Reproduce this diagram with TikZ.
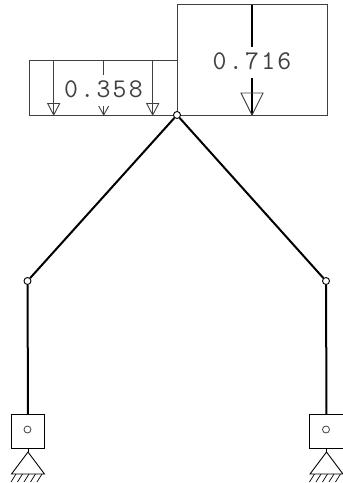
\documentclass[tikz,border=0pt]{standalone}
\usepackage{fontspec}
\definecolor{ink}{gray}{0.25}
\tikzset{
  x=1pt,y=-1pt,
  thinbox/.style={draw=ink,line width=1pt},
  bar/.style={draw=black,line width=2pt},
  thinline/.style={draw=ink,line width=1pt},
  hinge/.style={circle,draw=black,fill=white,line width=0.9pt,minimum size=7pt,inner sep=0pt},
  pin/.style={circle,draw=ink,fill=white,line width=0.8pt,minimum size=7pt,inner sep=0pt},
  valuelabel/.style={inner sep=0pt,text=ink,font=\ttfamily\fontsize{27}{27}\selectfont},
}
\newcommand{\tk}{\kern2.3pt}
\newcommand{\supportat}[2]{%
  \draw[line width=0.9pt,draw=black] (#1-16.5,#2+22) -- (#1,#2) -- (#1+16.5,#2+22) -- cycle;
  \foreach \k in {0,1,2,3,4}
    \draw[line width=0.7pt,draw=black] (#1-12+\k*6.5,#2+22) -- (#1-17+\k*6.5,#2+30);
}
\begin{document}
\begin{tikzpicture}
\useasboundingbox (0,0) rectangle (343,483);
% load boxes
\draw[thinbox] (29,60) rectangle (177.5,115);
\draw[thinbox] (177.5,4.5) rectangle (327,115);
% distributed load arrows
\coordinate (a1t) at (53.7,60); \coordinate (a1b) at (53.7,115);
\coordinate (a3t) at (152.7,60); \coordinate (a3b) at (152.7,115);
\coordinate (a2t) at (103.7,60); \coordinate (a2s) at (103.7,75);
\coordinate (a2m) at (103.7,106); \coordinate (a2b) at (103.7,115);
\draw[thinline] (a1t) -- (a1b);
\draw[thinline] (a3t) -- (a3b);
\draw[thinline] (a2t) -- (a2s);
\draw[thinline] (a2m) -- (a2b);
\draw[line width=0.9pt,draw=ink] (47.7,103.5) -- (59.7,103.5) -- (a1b) -- cycle;
\draw[line width=0.9pt,draw=ink] (146.7,103.5) -- (158.7,103.5) -- (a3b) -- cycle;
\draw[line width=0.9pt,draw=ink] (98.7,106) -- (a2b) -- (108.7,106);
\node[valuelabel] (v1) at (103.5,89) {0\tk.\tk3\tk5\tk8};
% point load
\coordinate (ptop) at (252,4.5); \coordinate (pmid1) at (252,46.5);
\coordinate (pmid2) at (252,78); \coordinate (pbot) at (252,115);
\draw[bar] (ptop) -- (pmid1);
\draw[bar] (pmid2) -- (pbot);
\draw[line width=0.9pt,draw=ink] (241,93) -- (263,93) -- (pbot) -- cycle;
\node[valuelabel] (v2) at (252,61) {0\tk.\tk7\tk1\tk6};
% supports
\supportat{28}{452}
\supportat{326.5}{452}
% blocks
\node[draw=black,line width=1pt,minimum size=33.5pt,inner sep=0pt] (bl) at (28,431.7) {};
\node[draw=black,line width=1pt,minimum size=33.5pt,inner sep=0pt] (br) at (326.5,431.7) {};
\node[pin] (pl) at (27.5,429.5) {};
\node[pin] (pr) at (326,429.5) {};
\coordinate (sl) at (28,452); \coordinate (sr) at (326.5,452);
\draw[line width=0.9pt] (bl.south) -- (sl);
\draw[line width=0.9pt] (br.south) -- (sr);
% frame
\node[hinge] (top) at (177,115) {};
\node[hinge] (hl) at (27.5,281) {};
\node[hinge] (hr) at (326,281) {};
\draw[bar] (top) -- (hl);
\draw[bar] (top) -- (hr);
\draw[bar] (hl) -- (bl.north);
\draw[bar] (hr) -- (br.north);
\end{tikzpicture}
\end{document}
